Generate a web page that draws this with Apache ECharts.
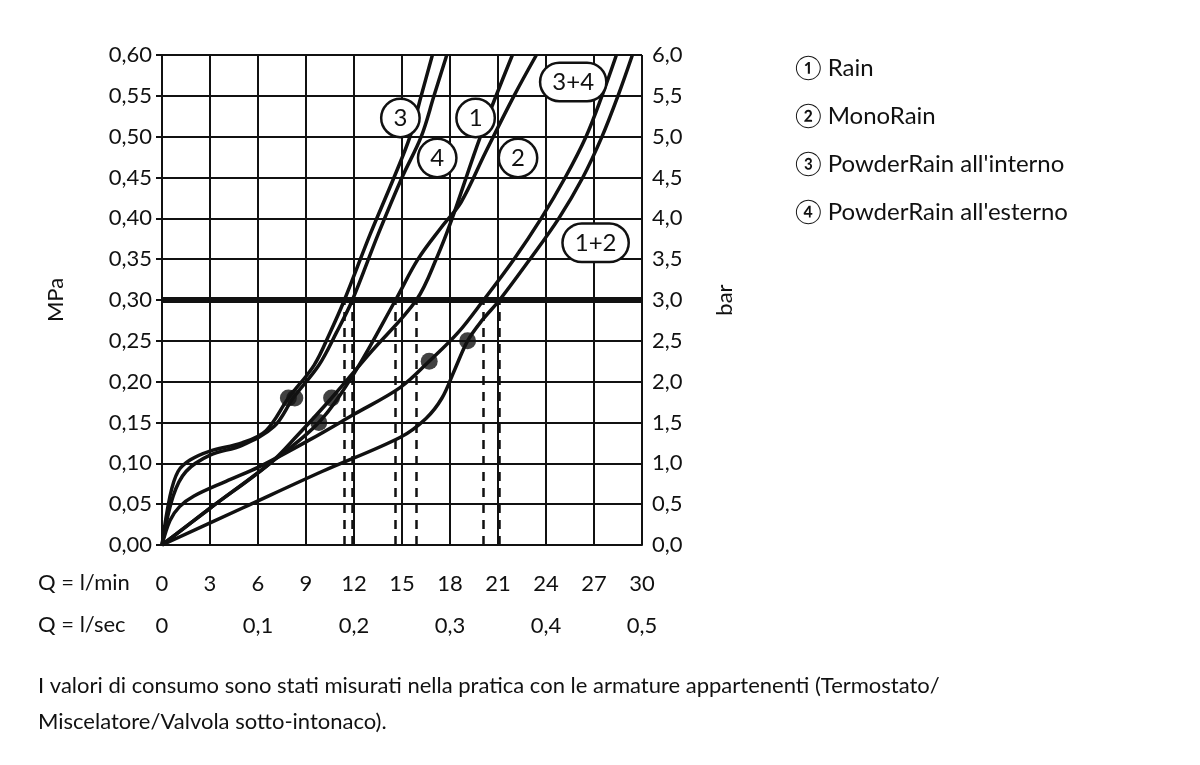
<!DOCTYPE html>
<html><head><meta charset="utf-8">
<script src="https://cdn.jsdelivr.net/npm/echarts@6/dist/echarts.min.js"></script>
<style>html,body{margin:0;padding:0;background:#fff}#c{width:1200px;height:765px}</style>
</head><body><div id="c"></div>
<script>
const FONT = 'Lato';
const yTicks = ['0,00','0,05','0,10','0,15','0,20','0,25','0,30','0,35','0,40','0,45','0,50','0,55','0,60'];
const barTicks = ['0,0','0,5','1,0','1,5','2,0','2,5','3,0','3,5','4,0','4,5','5,0','5,5','6,0'];
const curve3 = [[0,0],[0.5,0.06],[1,0.09],[1.75,0.104],[3,0.115],[5,0.125],[6.5,0.14],[7.9,0.18],[9.5,0.22],[10.5,0.26],[11.4,0.3],[13,0.38],[14.5,0.45],[15.5,0.5],[16.2,0.55],[16.9,0.6]];
const curve4 = [[0,0],[0.7,0.06],[1.5,0.09],[3,0.11],[5,0.122],[7,0.145],[8.2,0.18],[9.8,0.22],[10.9,0.26],[11.9,0.3],[13.5,0.38],[15,0.45],[16.2,0.5],[17,0.55],[17.8,0.6]];
const curve1 = [[0,0],[3,0.045],[6.75,0.1],[8.5,0.135],[10.6,0.18],[13,0.235],[15.9,0.3],[17.2,0.353],[18.1,0.398],[19.9,0.5],[21.9,0.6]];
const curve2 = [[0,0],[3,0.045],[6.75,0.1],[9.8,0.15],[12,0.21],[14.6,0.3],[16,0.35],[17.5,0.39],[18.7,0.42],[20.2,0.48],[22,0.55],[23.4,0.6]];
const curve34 = [[0,0],[0.5,0.03],[1.1,0.047],[2,0.06],[4,0.078],[6.1,0.096],[9.25,0.129],[12,0.16],[14.9,0.193],[16.7,0.225],[18.5,0.26],[20.1,0.3],[22,0.35],[23.7,0.4],[25.2,0.45],[26.5,0.5],[27.5,0.55],[28.4,0.6]];
const curve12 = [[0,0],[5,0.045],[10,0.09],[14.9,0.132],[16.5,0.155],[17.5,0.18],[18.3,0.215],[19.1,0.25],[20,0.275],[21.1,0.3],[23,0.35],[24.8,0.4],[26.3,0.45],[27.5,0.5],[28.5,0.55],[29.4,0.6]];
const dots = [[7.9,0.18],[8.3,0.18],[10.6,0.18],[9.8,0.15],[16.7,0.225],[19.1,0.25]];
const dashX = [11.4,11.9,14.6,15.9,20.1,21.1];
const curveLabels = [[14.9,0.523,'3'],[19.6,0.523,'1'],[17.2,0.474,'4'],[22.25,0.474,'2'],[25.7,0.567,'3+4'],[27.1,0.37,'1+2']];
const legendItems = ['① Rain','② MonoRain','③ PowderRain all\'interno','④ PowderRain all\'esterno'];
const footer = ['I valori di consumo sono stati misurati nella pratica con le armature appartenenti (Termostato/','Miscelatore/Valvola sotto-intonaco).'];

const chart = echarts.init(document.getElementById('c'));
const lineS = d => ({type:'line',data:d,smooth:0.35,symbol:'none',lineStyle:{color:'#111',width:3.5},z:3});
const txt = {fontFamily:FONT,fontSize:22,color:'#111'};
chart.setOption({
  animation:false,
  grid:{left:162,right:558,top:55,bottom:220},
  xAxis:[
    {type:'value',min:0,max:30,interval:3,position:'bottom',
     axisLine:{show:true,lineStyle:{color:'#111',width:2}},axisTick:{show:false},
     axisLabel:{...txt,margin:28},
     splitLine:{show:true,lineStyle:{color:'#111',width:2}}},
    {type:'value',min:0,max:0.5,interval:0.1,position:'bottom',offset:42,
     axisLine:{show:false},axisTick:{show:false},splitLine:{show:false},
     axisLabel:{...txt,margin:28,formatter:v=>v===0?'0':v.toFixed(1).replace('.',',')}}
  ],
  yAxis:[
    {type:'value',min:0,max:0.6,interval:0.05,name:'MPa',nameLocation:'middle',nameGap:95,
     nameTextStyle:{...txt},
     axisLine:{show:true,lineStyle:{color:'#111',width:2}},axisTick:{show:true,length:6,lineStyle:{color:'#111',width:2}},
     axisLabel:{...txt,margin:10,formatter:(v,i)=>yTicks[i]},
     splitLine:{show:true,lineStyle:{color:'#111',width:2}}},
    {type:'value',min:0,max:0.6,interval:0.05,position:'right',name:'bar',nameLocation:'middle',nameGap:72,
     nameTextStyle:{...txt},
     axisLine:{show:true,lineStyle:{color:'#111',width:2}},axisTick:{show:true,length:6,lineStyle:{color:'#111',width:2}},
     axisLabel:{...txt,margin:10,formatter:(v,i)=>barTicks[i]},
     splitLine:{show:false}}
  ],
  series:[
    lineS(curve3),lineS(curve4),lineS(curve1),lineS(curve2),lineS(curve34),lineS(curve12),
    {type:'line',data:[],markLine:{silent:true,symbol:'none',label:{show:false},
      lineStyle:{color:'#111',type:[9,7],width:2.5},
      data:dashX.map(x=>[{coord:[x,0]},{coord:[x,0.3]}])}},
    {type:'line',data:[],markLine:{silent:true,symbol:'none',label:{show:false},
      lineStyle:{color:'#111',type:'solid',width:6},data:[{yAxis:0.3}]},z:4},
    {type:'scatter',data:dots,symbolSize:17,itemStyle:{color:'#111'},z:5},
    {type:'scatter',data:curveLabels,symbolSize:0,itemStyle:{color:'#fff',opacity:1},z:6,
     emphasis:{disabled:true},
     label:{show:true,position:'inside',formatter:p=>p.data[2],fontFamily:FONT,fontSize:24,color:'#111',opacity:1,
       backgroundColor:'#fff',borderColor:'#111',borderWidth:2.5,borderRadius:20,padding:[6,11,6,11]}}
  ],
  graphic:[
    {type:'text',left:38,top:572,style:{text:'Q = l/min',fill:'#111',font:'22px '+FONT}},
    {type:'text',left:38,top:614,style:{text:'Q = l/sec',fill:'#111',font:'22px '+FONT}},
    ...legendItems.map((t,i)=>({type:'text',left:795,top:56+i*48,style:{text:t,fill:'#111',font:'24px '+FONT}})),
    {type:'text',left:38,top:668,style:{text:footer.join('\n'),fill:'#111',font:'22px '+FONT,lineHeight:36}}
  ]
});
</script></body></html>
